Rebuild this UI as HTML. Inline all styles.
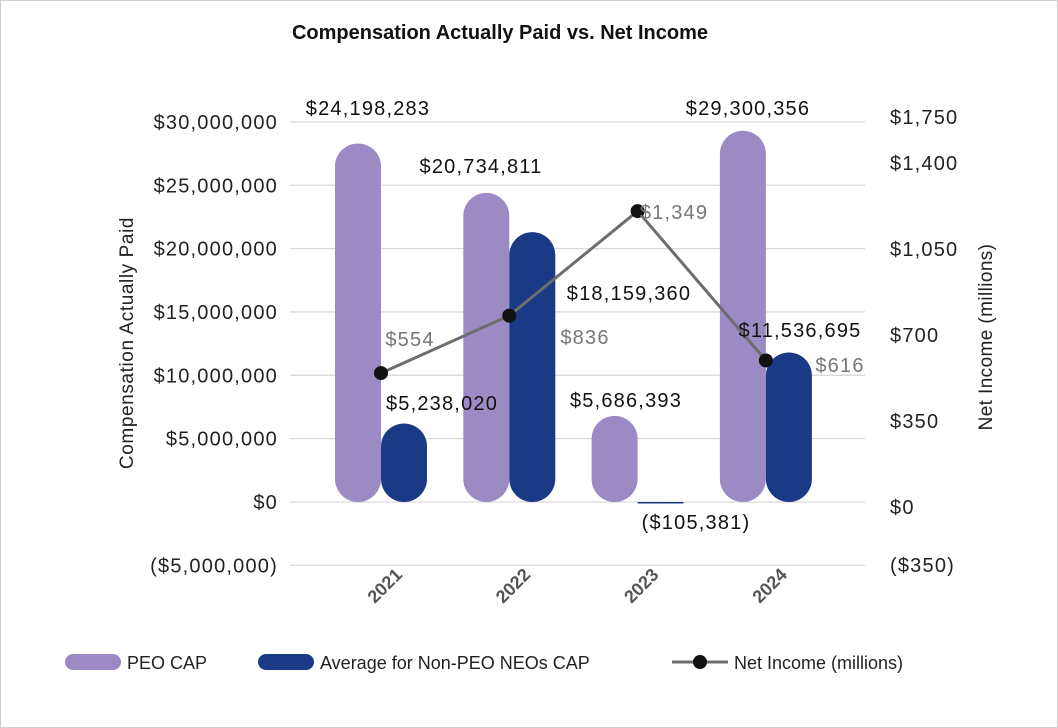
<!DOCTYPE html>
<html><head><meta charset="utf-8"><style>
body{margin:0;background:#fff;}
svg{display:block;font-family:"Liberation Sans",sans-serif;}
.big{font-size:20px;letter-spacing:1.2px;}
</style></head><body>
<svg id="c" width="1058" height="728">
<rect x="0.5" y="0.5" width="1057" height="727" fill="#fff" stroke="#d0d0d0"/>
<text x="500" y="39" text-anchor="middle" font-size="20" font-weight="bold" fill="#111">Compensation Actually Paid vs. Net Income</text>
<text transform="translate(133,343) rotate(-90)" text-anchor="middle" font-size="19" letter-spacing="0.6" fill="#222">Compensation Actually Paid</text>
<text transform="translate(992,337) rotate(-90)" text-anchor="middle" font-size="19" letter-spacing="0.4" fill="#222">Net Income (millions)</text>
<g id="grid"></g><g id="bars"></g><g id="line"></g><g id="labels"></g>
<g>
<rect x="65" y="654" width="56" height="16" rx="8" fill="#9b8ac4"/>
<text x="127" y="669" font-size="18" fill="#222">PEO CAP</text>
<rect x="258" y="654" width="56" height="16" rx="8" fill="#1a3a85"/>
<text x="320" y="669" font-size="18" fill="#222">Average for Non-PEO NEOs CAP</text>
<line x1="672" y1="662" x2="728" y2="662" stroke="#6d6d6d" stroke-width="3"/>
<circle cx="700" cy="662" r="7" fill="#111"/>
<text x="734" y="669" font-size="18" fill="#222">Net Income (millions)</text>
</g>
</svg>
<script>
const years=["2021","2022","2023","2024"];
const peoCap=[28.3,24.4,6.8,29.3];
const nonPeoCap=[6.2,21.3,-0.1,11.8];
const netIncome=[554,836,1349,616];
const peoLabels=["$24,198,283","$20,734,811","$5,686,393","$29,300,356"];
const nonPeoLabels=["$5,238,020","$18,159,360","($105,381)","$11,536,695"];
const netLabels=["$554","$836","$1,349","$616"];
const leftTicks=[-5,0,5,10,15,20,25,30];
const leftTickLabels=["($5,000,000)","$0","$5,000,000","$10,000,000","$15,000,000","$20,000,000","$25,000,000","$30,000,000"];
const rightTicks=[-350,0,350,700,1050,1400,1750];
const rightTickLabels=["($350)","$0","$350","$700","$1,050","$1,400","$1,750"];
const NS="http://www.w3.org/2000/svg";
const yL=v=>502-v*12.67;
const yR=v=>486-v*0.2038;
const yRLab=v=>Math.min(565,Math.max(117,507-v*0.2457));
const xC=i=>381+i*128.3;
function mk(p,t,a){const e=document.createElementNS(NS,t);for(const k in a)e.setAttribute(k,a[k]);document.getElementById(p).appendChild(e);return e;}
leftTicks.forEach((t,i)=>{
 const g=mk("grid","line",{x1:290,x2:865,y1:yL(t),y2:yL(t),stroke:"#d9d9d9","stroke-width":1.3});
 
 
 const tx=mk("grid","text",{x:278,y:yL(t)+7,"text-anchor":"end","class":"big",fill:"#222"});
 tx.textContent=leftTickLabels[i];
 
 
});
rightTicks.forEach((t,i)=>{
 const tx=mk("grid","text",{x:890,y:yRLab(t)+7,"class":"big",fill:"#222"});
 tx.textContent=rightTickLabels[i];
 
 
});
years.forEach((y,i)=>{
 const tx=mk("grid","text",{transform:`translate(${xC(i)+8},${590}) rotate(-45)`,"text-anchor":"middle","font-size":18,"font-weight":"bold",fill:"#555"});
 tx.textContent=y;
 
 
 [[peoCap,"#9b8ac4",-23,"bar-peo"],[nonPeoCap,"#1a3a85",23,"bar-nonpeo"]].forEach(([arr,col,off,nm])=>{
  const v=arr[i];const top=Math.min(yL(v),yL(0)),h=Math.abs(yL(v)-yL(0));
  const r=mk("bars","rect",{x:xC(i)+off-23,y:top,width:46,height:Math.max(h,1.5),rx:Math.min(23,h/2),fill:col});
  
  
 });
});
const pts=netIncome.map((v,i)=>xC(i)+","+yR(v)).join(" ");
const pl=mk("line","polyline",{points:pts,fill:"none",stroke:"#6d6d6d","stroke-width":3});


netIncome.forEach((v,i)=>{
 const c=mk("line","circle",{cx:xC(i),cy:yR(v),r:7,fill:"#111"});
 
 
});
const peoPos=[[368,115],[481,173],[626,407],[748,115]];
const nonPos=[[442,410],[629,300],[696,529],[800,337]];
const netPos=[[410,346],[585,344],[674,219],[840,372]];
peoLabels.forEach((s,i)=>{const t=mk("labels","text",{x:peoPos[i][0],y:peoPos[i][1],"text-anchor":"middle","class":"big",fill:"#111"});t.textContent=s;});
nonPeoLabels.forEach((s,i)=>{const t=mk("labels","text",{x:nonPos[i][0],y:nonPos[i][1],"text-anchor":"middle","class":"big",fill:"#111"});t.textContent=s;});
netLabels.forEach((s,i)=>{const t=mk("labels","text",{x:netPos[i][0],y:netPos[i][1],"text-anchor":"middle","class":"big",fill:"#777"});t.textContent=s;});
</script>
</body></html>
